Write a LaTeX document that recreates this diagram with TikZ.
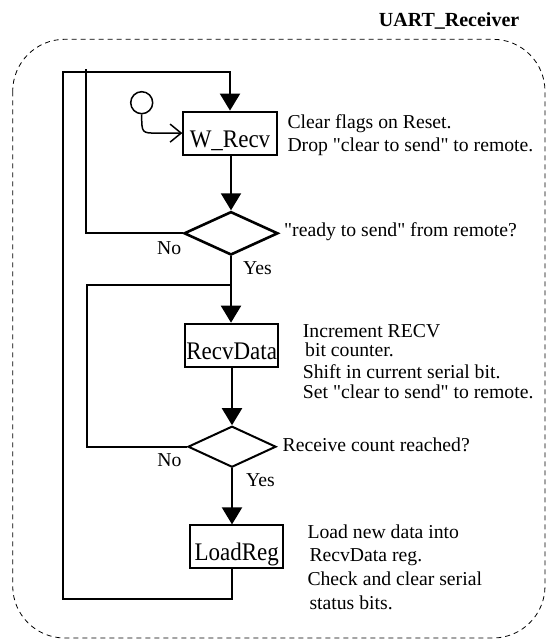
\documentclass[tikz,border=0pt]{standalone}
\usepackage{fontspec}
\setmainfont{Liberation Serif}
\usepackage{graphicx}
\usetikzlibrary{arrows.meta,shapes.geometric}
% straight double quote, kept out of the TeX ligature mapping
\newcommand\sq{\textquotedbl}

\begin{document}
\begin{tikzpicture}[x=1pt,y=-1pt,
  flow/.style={line width=2pt},
  flowarrow/.style={flow,-{Triangle[length=17pt,width=20pt]}},
  statebox/.style={draw,line width=2pt,rectangle,inner sep=0pt,
    minimum width=#1,text height=35.5pt,text depth=7.5pt,
    font=\fontsize{23}{26}\selectfont},
  decision/.style={draw,diamond,inner sep=0pt},
  note/.style={anchor=base west,inner sep=0pt,text height=14pt,text depth=3pt,
    font=\fontsize{19.7}{22}\selectfont},
  branch/.style={inner sep=0pt,font=\fontsize{19.7}{22}\selectfont},
]
\useasboundingbox (0,0) rectangle (546,640);

% enclosing state
\draw[line width=0.8pt,dash pattern=on 5pt off 4pt,rounded corners=52pt]
  (12.7,39.3) rectangle (545,638);
\node[anchor=base east,inner sep=0pt,font=\fontsize{20}{23}\selectfont\bfseries]
  (title) at (519.5,26.7) {UART\_Receiver};

% states and decisions
\node[statebox=93.4pt] (w)  at (230,133.1)   {\scalebox{1}[1.1]{W\_Recv}};
\node[decision,line width=2.6pt,minimum width=94pt,minimum height=43.4pt] (d1) at (231,233.3) {};
\node[statebox=93.3pt] (rd) at (231.7,345.2) {\scalebox{1}[1.1]{RecvData}};
\node[decision,line width=2pt,minimum width=88pt,minimum height=41pt] (d2) at (232,446.7) {};
\node[statebox=93.3pt] (lr) at (236.7,546.9) {\scalebox{1}[1.1]{LoadReg}};

% initial pseudostate
\node[circle,draw,line width=1.5pt,minimum size=22pt,inner sep=0pt] (init) at (141.7,102.7) {};
\draw[line width=1.5pt,-{Straight Barb[length=11pt,width=18pt]}]
  (init.south) .. controls (init.south |- w.west) .. ([xshift=-25pt]w.west) -- (w.west);

% loop junctions
\coordinate (j1) at (86,69);
\coordinate (j2) at (87,285);
\coordinate (bl) at (62.7,599.3);
\coordinate (tl) at (62.7,71.7);

% main flow
\draw[flowarrow] (w.south -| d1) -- (d1.north);
\draw[flowarrow] (d1.south) -- (d1.south |- rd.north);
\draw[flowarrow] (d2.north |- rd.south) -- (d2.north);
\draw[flowarrow] (d2.south) -- (d2.south |- lr.north);

% "No" branches
\draw[flow] (d1.west) -| (j1);
\draw[flow] (d2.west) -| (j2) -- (d1.south |- j2);

% return from LoadReg
\draw[flowarrow] (d2.south |- lr.south) |- (bl) -- (tl) -| (w.north);

% branch labels
\node[branch,anchor=base east] (no1)  at (181.5,254.5) {No};
\node[branch,anchor=base west] (yes1) at (243,274.5)   {Yes};
\node[branch,anchor=base east] (no2)  at (181.7,466.7) {No};
\node[branch,anchor=base west] (yes2) at (246,486.7)   {Yes};

% conditions
\node[note] (c1) at (284,236.5)  {\sq ready to send\sq{} from remote?};
\node[note] (c2) at (282.5,451)  {Receive count reached?};

% actions
\node[note] (a1) at (287.3,128.3) {Clear flags on Reset.};
\node[note] (a2) at (287.3,151.5) {Drop \sq clear to send\sq{} to remote.};
\node[note] (b1) at (302.7,337.5) {Increment RECV};
\node[note] (b2) at (305,356.5)   {bit counter.};
\node[note] (b3) at (302.7,378.3) {Shift in current serial bit.};
\node[note] (b4) at (302.7,398.3) {Set \sq clear to send\sq{} to remote.};
\node[note] (e1) at (307.3,538.3) {Load new data into};
\node[note] (e2) at (309.3,561.7) {RecvData reg.};
\node[note] (e3) at (307.3,585)   {Check and clear serial};
\node[note] (e4) at (309.3,609.3) {status bits.};
\end{tikzpicture}
\end{document}
